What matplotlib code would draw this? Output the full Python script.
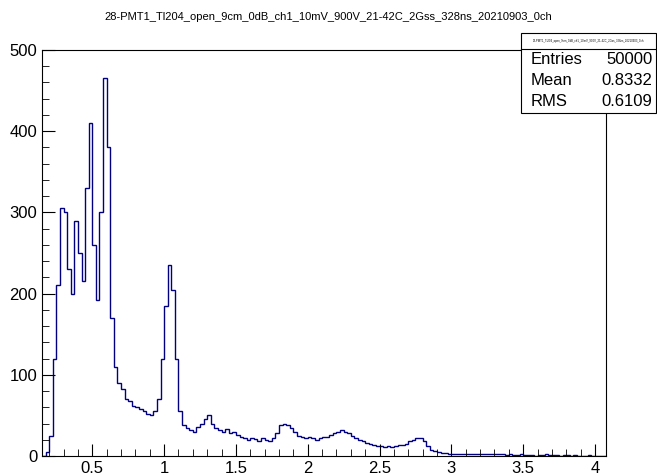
import numpy as np
import matplotlib.pyplot as plt
from matplotlib.ticker import MultipleLocator

plt.rcParams['font.family'] = ['Liberation Sans', 'DejaVu Sans']

title = "28-PMT1_Tl204_open_9cm_0dB_ch1_10mV_900V_21-42C_2Gss_328ns_20210903_0ch"
x_start = 0.15
bin_w = 0.025
counts = [
    0, 5, 25, 120, 210, 305, 300, 230, 200, 290,
    250, 215, 330, 410, 260, 192, 300, 465, 380, 170,
    110, 90, 82, 70, 68, 62, 60, 58, 55, 52,
    50, 55, 70, 120, 185, 235, 205, 120, 55, 38,
    35, 32, 30, 36, 40, 46, 50, 40, 35, 32,
    30, 33, 28, 30, 26, 24, 22, 20, 22, 21,
    19, 22, 20, 18, 22, 28, 38, 40, 38, 34,
    30, 25, 24, 22, 24, 22, 20, 22, 24, 24,
    26, 28, 30, 32, 30, 28, 25, 22, 20, 18,
    16, 15, 13, 12, 12, 11, 12, 11, 12, 13,
    14, 15, 18, 20, 22, 22, 18, 12, 8, 6,
    5, 4, 4, 3,
    3, 3, 2, 3, 2, 3, 2, 2, 3, 2, 2, 2, 3, 2, 2, 1, 2, 1, 1, 2, 1, 1,
    1, 0, 1, 1, 2, 1, 1, 1, 0, 1, 1, 0, 1, 0, 0,
    0, 1, 0, 0, 0, 0,
]
stats_labels = ["Entries", "Mean", "RMS"]
stats_values = ["50000", "0.8332", "0.6109"]

edges = x_start + bin_w * np.arange(len(counts) + 1)

fig = plt.figure(figsize=(6.57, 4.76), dpi=100)
ax = fig.add_axes([0.064, 0.042, 0.858, 0.853])
ax.stairs(counts, edges, color="#000080", lw=1.0)
ax.set_xlim(edges[0], edges[-1])
ax.set_ylim(0, 500)
ax.xaxis.set_major_locator(MultipleLocator(0.5))
ax.xaxis.set_minor_locator(MultipleLocator(0.1))
ax.yaxis.set_major_locator(MultipleLocator(100))
ax.yaxis.set_minor_locator(MultipleLocator(20))
ax.tick_params(which="both", direction="in", top=False, right=False, labelsize=12)
ax.tick_params(which="major", length=9)
ax.tick_params(which="minor", length=5)
ax.set_xticks([0.5, 1, 1.5, 2, 2.5, 3, 3.5, 4])
ax.set_xticklabels(["0.5", "1", "1.5", "2", "2.5", "3", "3.5", "4"])
for s in ax.spines.values():
    s.set_linewidth(0.8)

fig.text(0.5, 0.965, title, ha="center", va="center", fontsize=8)

# stats box
bx0, by0, bw, bh = 0.793, 0.763, 0.205, 0.168
fig.patches.append(plt.Rectangle((bx0, by0), bw, bh, transform=fig.transFigure,
                                 fill=True, facecolor="white", edgecolor="black", lw=0.8))
fig.lines.append(plt.Line2D([bx0, bx0 + bw], [by0 + bh * 0.80] * 2,
                            transform=fig.transFigure, color="black", lw=0.8))
fig.text(bx0 + bw / 2, by0 + bh * 0.90, title, ha="center", va="center", fontsize=2)
for i, (lab, val) in enumerate(zip(stats_labels, stats_values)):
    yy = by0 + bh * (0.67 - 0.265 * i)
    fig.text(bx0 + 0.015, yy, lab, ha="left", va="center", fontsize=12)
    fig.text(bx0 + bw - 0.005, yy, val, ha="right", va="center", fontsize=12)

fig.savefig("out.png", dpi=100)
